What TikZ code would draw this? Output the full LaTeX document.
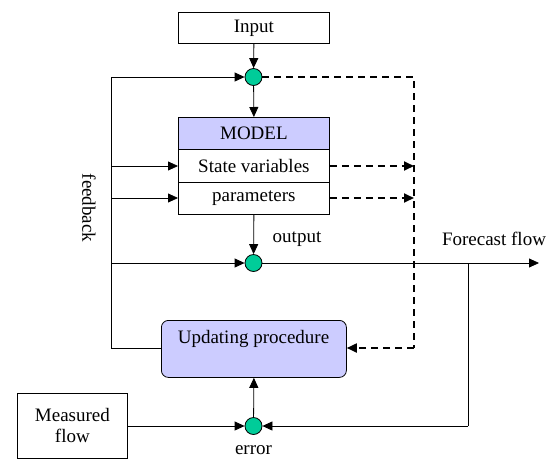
\documentclass[tikz,border=0pt]{standalone}
\usepackage{fontspec}
\setmainfont{Liberation Serif}
\usetikzlibrary{arrows.meta}
\definecolor{jgreen}{HTML}{00CC99}
\definecolor{lav}{HTML}{CCCCFF}
\begin{document}
\begin{tikzpicture}[x=1pt,y=-1pt,
  font=\fontsize{19}{22}\selectfont,
  box/.style={draw,line width=0.8pt,inner sep=0pt,anchor=north west},
  junc/.style={circle,draw,line width=0.8pt,fill=jgreen,minimum size=17pt,inner sep=0pt},
  conn/.style={line width=0.8pt},
  arr/.style={conn,-{Triangle[length=10pt,width=9pt]}},
  darr/.style={line width=1.8pt,dash pattern=on 7pt off 5pt,-{Triangle[length=10pt,width=9pt]}},
  dline/.style={line width=1.8pt,dash pattern=on 7pt off 5pt},
  lbl/.style={inner sep=0pt}]
\useasboundingbox (0,0) rectangle (552,459);
% boxes
\node[box,minimum width=151pt,minimum height=31pt] (input) at (178,12) {Input};
\node[box,fill=lav,minimum width=151pt,minimum height=32pt] (model) at (178,117) {MODEL};
\node[box,minimum width=151pt,minimum height=33pt] (state) at (178,149) {State variables};
\node[box,minimum width=151pt,minimum height=32pt] (param) at (178,182) {parameters};
\node[box,fill=lav,rounded corners=7pt,minimum width=185pt,minimum height=57pt] (upd) at (161,320) {};
\node[lbl] (updtxt) at (253.5,339) {Updating procedure};
\node[box,minimum width=110pt,minimum height=65pt,align=center] (meas) at (17,393) {Measured\\[-1pt]flow};
% junctions
\node[junc] (c1) at (253.5,77) {};
\node[junc] (c2) at (253.5,263) {};
\node[junc] (c3) at (253.5,426) {};
% coordinates
\coordinate (ltop) at (111,77);
\coordinate (lbot) at (111,348);
\coordinate (ls) at (111,166);
\coordinate (lp) at (111,198);
\coordinate (lo) at (111,263);
\coordinate (dtop) at (414,77);
\coordinate (dbot) at (414,348);
\coordinate (ds) at (414,166);
\coordinate (dp) at (414,198);
\coordinate (fout) at (539,263);
\coordinate (ftop) at (468,263);
\coordinate (fbot) at (468,426);
% labels
\node[lbl] (outlbl) at (297,239) {output};
\node[lbl] (fclbl) at (494,239) {Forecast flow};
\node[lbl,rotate=-90] (fblbl) at (89,208) {feedback};
\node[lbl] (errlbl) at (253.5,450.5) {error};
% solid connectors
\draw[arr] (input.south) -- (c1);
\draw[arr] (c1) -- (model.north);
\draw[arr] (param.south) -- (c2);
\draw[conn] (lbot) -- (upd.west |- lbot);
\draw[conn] (lbot) -- (ltop);
\draw[arr] (ltop) -- (c1);
\draw[arr] (ls) -- (state.west |- ls);
\draw[arr] (lp) -- (param.west |- lp);
\draw[arr] (lo) -- (c2);
\draw[arr] (c2) -- (fout);
\draw[conn] (ftop) -- (fbot);
\draw[arr] (fbot) -- (c3);
\draw[arr] (meas.east |- c3) -- (c3);
\draw[arr] (c3) -- (upd.south);
% dashed connectors
\draw[dline] (c1) -- (dtop) -- (dbot);
\draw[darr] (dbot) -- (upd.east |- dbot);
\draw[darr] (state.east |- ds) -- (ds);
\draw[darr] (param.east |- dp) -- (dp);
\end{tikzpicture}
\end{document}
